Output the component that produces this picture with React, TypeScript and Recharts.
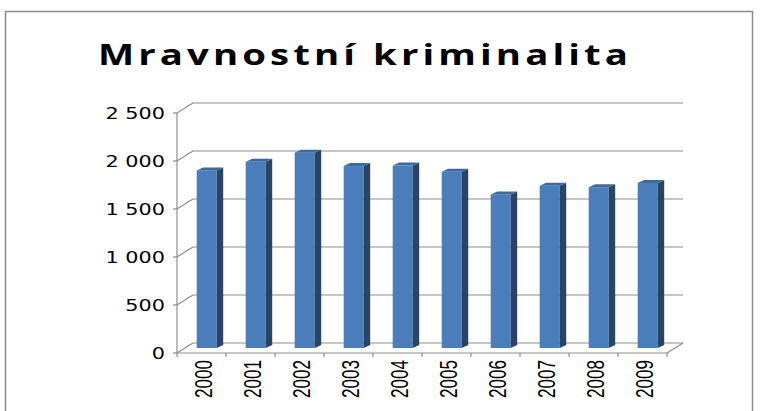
import { BarChart, Bar, XAxis, YAxis, CartesianGrid } from "recharts";

const years = ["2000", "2001", "2002", "2003", "2004", "2005", "2006", "2007", "2008", "2009"];
const cases = [1850, 1940, 2035, 1895, 1900, 1835, 1600, 1690, 1675, 1720];
const yTicks = [0, 500, 1000, 1500, 2000, 2500];
const title = "Mravnostní kriminalita";

const data = years.map((year, i) => ({ year, cases: cases[i] }));

const W = 769;
const H = 411;
const PLOT_W = 490;
const BAND = PLOT_W / years.length;
// 3d look: back wall offset
const DX = 16;
const DY = -10;
const GRID = "#8e8e8e";
const FONT = "'Liberation Sans', Arial, sans-serif";

const fmt = (v: number) => String(v).replace(/\B(?=(\d{3})+(?!\d))/g, " ");

function Column(props: any) {
  const { x, y, width, height } = props;
  if (!height) return null;
  // columns stand halfway into the depth
  const l = x + 5;
  const t = y - 5;
  const r = l + width;
  const b = t + height;
  const sx = 6.5;
  const sy = -3;
  return (
    <g>
      <rect x={l} y={t} width={width} height={height} fill="#4a7ebb" />
      <polygon
        points={`${r},${t} ${r + sx},${t + sy} ${r + sx},${b + sy} ${r},${b}`}
        fill="#2a4466"
      />
      <polygon
        points={`${l},${t} ${l + sx},${t + sy} ${r + sx},${t + sy} ${r},${t}`}
        fill="#3d69a1"
      />
    </g>
  );
}

function WallLine(props: any) {
  const { x1, y1, x2 } = props;
  return (
    <g key={props.key}>
      <line x1={x1} y1={y1} x2={x1 + DX} y2={y1 + DY} stroke={GRID} strokeWidth={1.2} />
      <line x1={x1 + DX} y1={y1 + DY} x2={x2 + DX} y2={y1 + DY} stroke={GRID} strokeWidth={1.2} />
    </g>
  );
}

function YTick(props: any) {
  const { x, y, payload } = props;
  return (
    <text
      transform={`translate(${x},${y}) scale(1.3,1)`}
      textAnchor="end"
      dy="0.36em"
      fontSize={16}
      fontFamily="'DejaVu Sans', sans-serif"
      fill="#000"
    >
      {fmt(payload.value)}
    </text>
  );
}

function XTick(props: any) {
  const { x, y, payload, index } = props;
  const half = BAND / 2;
  const axisY = y - 7;
  const last = index === years.length - 1;
  return (
    <g>
      <line x1={x - half} y1={axisY} x2={x - half} y2={axisY + 4} stroke={GRID} strokeWidth={1.2} />
      {last && (
        <>
          <line x1={x + half} y1={axisY} x2={x + half} y2={axisY + 4} stroke={GRID} strokeWidth={1.2} />
          <line x1={x + half} y1={axisY} x2={x + half + DX} y2={axisY + DY} stroke={GRID} strokeWidth={1.2} />
        </>
      )}
      <text
        transform={`translate(${x + 2},${y}) rotate(-90)`}
        textAnchor="end"
        dy="0.36em"
        fontSize={23}
        fontFamily={FONT}
        textLength={38}
        lengthAdjust="spacingAndGlyphs"
        fill="#000"
      >
        {payload.value}
      </text>
    </g>
  );
}

export default function App() {
  return (
    <div style={{ position: "absolute", left: 0, top: 0, width: W, height: H, background: "#fff", overflow: "hidden" }}>
      <svg width={W} height={H} style={{ position: "absolute", left: 0, top: 0 }}>
        <path d={`M5.5 ${H + 2} V11.5 H752.5 V${H + 2}`} fill="none" stroke="#8c8c8c" strokeWidth={1.5} />
        <text
          x={98}
          y={65}
          fontSize={28}
          fontWeight={700}
          letterSpacing={3}
          fontFamily="'Open Sans', sans-serif"
          textLength={534}
          lengthAdjust="spacingAndGlyphs"
          fill="#000"
        >
          {title}
        </text>
      </svg>
      <div style={{ position: "absolute", left: 0, top: 0 }}>
        <BarChart
          width={W}
          height={H}
          data={data}
          margin={{ top: 113, right: W - 177 - PLOT_W, bottom: 8, left: 107 }}
          barCategoryGap="30%"
        >
          <CartesianGrid vertical={false} horizontal={(p: any) => <WallLine {...p} />} />
          <XAxis
            dataKey="year"
            interval={0}
            height={50}
            tickLine={false}
            tickSize={5}
            tickMargin={2}
            axisLine={{ stroke: GRID, strokeWidth: 1.2 }}
            tick={<XTick />}
          />
          <YAxis
            width={70}
            domain={[0, 2500]}
            ticks={yTicks}
            interval={0}
            tickSize={4}
            tickMargin={8}
            axisLine={{ stroke: GRID, strokeWidth: 1.2 }}
            tickLine={{ stroke: GRID, strokeWidth: 1.2 }}
            tick={<YTick />}
          />
          <Bar dataKey="cases" shape={<Column />} isAnimationActive={false} />
        </BarChart>
      </div>
    </div>
  );
}
